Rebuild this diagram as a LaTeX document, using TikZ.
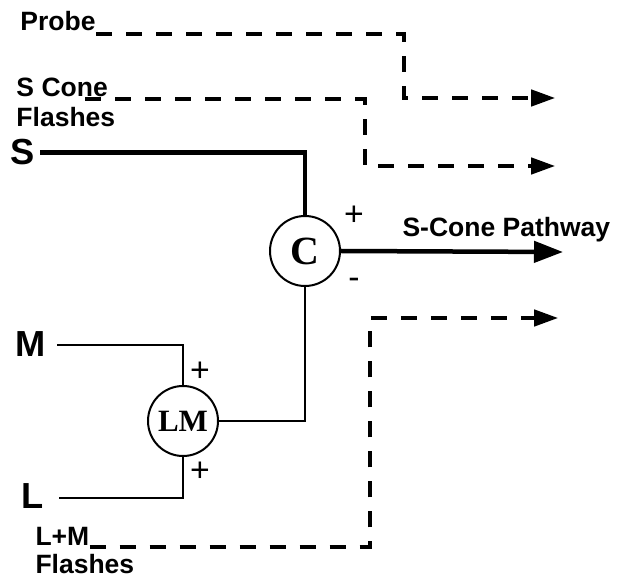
\documentclass[tikz,border=0pt]{standalone}
\usepackage{fontspec}
\setmainfont{Liberation Sans}
\newfontfamily\unitfont{Liberation Serif}
\usetikzlibrary{arrows.meta}

\begin{document}
\begin{tikzpicture}[x=0.4pt,y=-0.4pt,
    lbl/.style={font=\bfseries\fontsize{10.6}{11}\selectfont,inner sep=0pt,anchor=base west},
    cone/.style={font=\bfseries\fontsize{14.5}{15}\selectfont,inner sep=0pt,anchor=base west},
    unit/.style={circle,draw,line width=0.8pt,minimum size=28pt,inner sep=0pt,
        font=\unitfont\bfseries\fontsize{12.4}{13}\selectfont},
    sign/.style={font=\fontsize{13.5}{14}\selectfont,inner sep=0pt},
    wire/.style={line width=0.8pt},
    strong/.style={line width=1.8pt},
    flash/.style={line width=1.3pt,dash pattern=on 6.4pt off 5.6pt,
        -{Triangle[length=9.6pt,width=6.6pt]}}]
    \fill[white] (0,0) rectangle (619,578);
    \useasboundingbox (0,0) rectangle (619,578);
    % labels
    \node[lbl] (probe) at (20,31) {Probe};
    \node[lbl] (scone) at (16,97) {S Cone};
    \node[lbl] (sconeb) at (16,127) {Flashes};
    \node[cone] (s) at (10,165) {S};
    \node[cone] (m) at (15,357) {M};
    \node[cone] (l) at (21,508) {L};
    \node[lbl] (lmflash) at (35,545) {L+M};
    \node[lbl] (lmflashb) at (35,573) {Flashes};
    \node[lbl] (pathway) at (402,237) {S-Cone Pathway};
    % units
    \node[unit,font=\unitfont\bfseries\fontsize{16}{17}\selectfont] (c) at (305,251) {C};
    \node[unit] (lm) at (183,421) {LM};
    \node[sign] (cplus) at (354,216) {+};
    \node[sign] (cminus) at (354,283) {-};
    \node[sign] (mplus) at (200,372) {+};
    \node[sign] (lplus) at (200,472) {+};
    % wires
    \draw[strong] ([xshift=2pt]s.east) -| (c.north);
    \draw[wire] ([xshift=4.4pt]m.east) -| (lm.north);
    \draw[wire] ([xshift=6pt,yshift=-1pt]l.east) -| (lm.south);
    \draw[wire] (c.south) |- (lm.east);
    \coordinate (pathend) at (563,252);
    \draw[strong,-{Triangle[length=11.6pt,width=8.4pt]}] (c.east) -- (pathend);
    % flashes
    \coordinate (probeturn) at (404,98);
    \coordinate (probeend) at (555,98);
    \coordinate (sconeturn) at (365,166);
    \coordinate (sconeend) at (555,166);
    \coordinate (lmturn) at (370,318);
    \coordinate (lmend) at (558,318);
    \draw[flash] (probe.base east) ++(0,3) -| (probeturn) -- (probeend);
    \draw[flash] ([xshift=-9.2pt]scone.base east) ++(0,2) -| (sconeturn) -- (sconeend);
    \draw[flash] (lmflash.base east) ++(0,2) -| (lmturn) -- (lmend);
\end{tikzpicture}
\end{document}
